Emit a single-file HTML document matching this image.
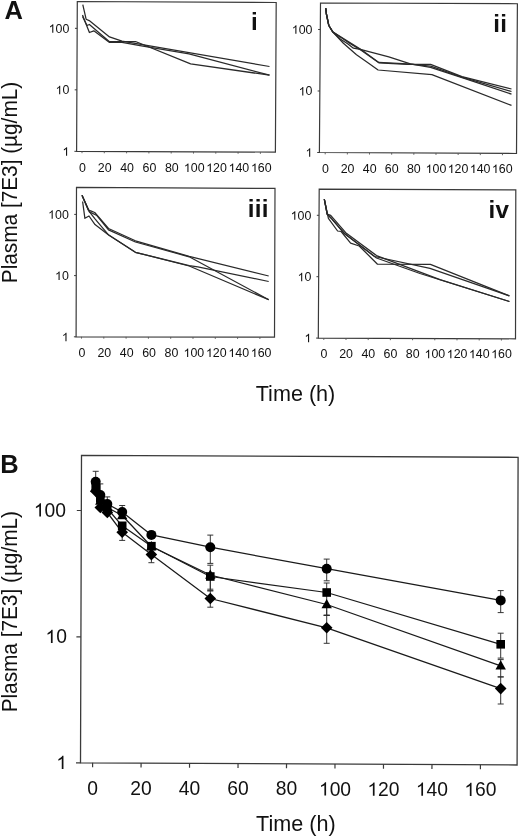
<!DOCTYPE html>
<html><head><meta charset="utf-8"><style>
html,body{margin:0;padding:0;background:#fff;}
svg{display:block;will-change:transform;font-family:"Liberation Sans", sans-serif;}
</style></head><body>
<svg width="520" height="837" viewBox="0 0 520 837">
<rect width="520" height="837" fill="#fff"/>
<polygon points="77.30,1.50 276.20,2.50 275.40,152.10 76.60,151.35" fill="none" stroke="#3a3a3a" stroke-width="1.2" stroke-linejoin="miter"/>
<line x1="76.60" y1="151.35" x2="74.40" y2="151.34" stroke="#3a3a3a" stroke-width="1.0"/>
<line x1="76.89" y1="89.85" x2="74.69" y2="89.84" stroke="#3a3a3a" stroke-width="1.0"/>
<line x1="77.17" y1="28.35" x2="74.97" y2="28.34" stroke="#3a3a3a" stroke-width="1.0"/>
<line x1="82.00" y1="151.37" x2="81.99" y2="153.17" stroke="#555" stroke-width="0.9"/>
<line x1="104.30" y1="151.45" x2="104.29" y2="153.25" stroke="#555" stroke-width="0.9"/>
<line x1="126.60" y1="151.54" x2="126.59" y2="153.34" stroke="#555" stroke-width="0.9"/>
<line x1="148.90" y1="151.62" x2="148.89" y2="153.42" stroke="#555" stroke-width="0.9"/>
<line x1="171.20" y1="151.71" x2="171.19" y2="153.51" stroke="#555" stroke-width="0.9"/>
<line x1="193.50" y1="151.79" x2="193.49" y2="153.59" stroke="#555" stroke-width="0.9"/>
<line x1="215.80" y1="151.88" x2="215.79" y2="153.68" stroke="#555" stroke-width="0.9"/>
<line x1="238.10" y1="151.96" x2="238.09" y2="153.76" stroke="#555" stroke-width="0.9"/>
<line x1="260.40" y1="152.04" x2="260.39" y2="153.84" stroke="#555" stroke-width="0.9"/>
<polygon points="320.50,3.00 517.40,3.75 516.50,153.50 319.40,152.50" fill="none" stroke="#3a3a3a" stroke-width="1.2" stroke-linejoin="miter"/>
<line x1="319.40" y1="152.50" x2="317.20" y2="152.49" stroke="#3a3a3a" stroke-width="1.0"/>
<line x1="319.85" y1="91.00" x2="317.65" y2="90.99" stroke="#3a3a3a" stroke-width="1.0"/>
<line x1="320.30" y1="29.50" x2="318.11" y2="29.49" stroke="#3a3a3a" stroke-width="1.0"/>
<line x1="325.20" y1="152.53" x2="325.19" y2="154.33" stroke="#555" stroke-width="0.9"/>
<line x1="347.36" y1="152.64" x2="347.35" y2="154.44" stroke="#555" stroke-width="0.9"/>
<line x1="369.52" y1="152.75" x2="369.51" y2="154.55" stroke="#555" stroke-width="0.9"/>
<line x1="391.68" y1="152.87" x2="391.67" y2="154.67" stroke="#555" stroke-width="0.9"/>
<line x1="413.84" y1="152.98" x2="413.83" y2="154.78" stroke="#555" stroke-width="0.9"/>
<line x1="436.00" y1="153.09" x2="435.99" y2="154.89" stroke="#555" stroke-width="0.9"/>
<line x1="458.16" y1="153.20" x2="458.14" y2="155.00" stroke="#555" stroke-width="0.9"/>
<line x1="480.32" y1="153.32" x2="480.30" y2="155.12" stroke="#555" stroke-width="0.9"/>
<line x1="502.48" y1="153.43" x2="502.46" y2="155.23" stroke="#555" stroke-width="0.9"/>
<polygon points="76.50,187.40 275.00,188.40 274.50,337.20 76.10,336.80" fill="none" stroke="#3a3a3a" stroke-width="1.2" stroke-linejoin="miter"/>
<line x1="76.10" y1="336.80" x2="73.90" y2="336.80" stroke="#3a3a3a" stroke-width="1.0"/>
<line x1="76.26" y1="275.60" x2="74.06" y2="275.60" stroke="#3a3a3a" stroke-width="1.0"/>
<line x1="76.43" y1="214.40" x2="74.23" y2="214.40" stroke="#3a3a3a" stroke-width="1.0"/>
<line x1="81.50" y1="336.81" x2="81.50" y2="338.61" stroke="#555" stroke-width="0.9"/>
<line x1="103.80" y1="336.86" x2="103.80" y2="338.66" stroke="#555" stroke-width="0.9"/>
<line x1="126.10" y1="336.90" x2="126.10" y2="338.70" stroke="#555" stroke-width="0.9"/>
<line x1="148.40" y1="336.95" x2="148.40" y2="338.75" stroke="#555" stroke-width="0.9"/>
<line x1="170.70" y1="336.99" x2="170.69" y2="338.79" stroke="#555" stroke-width="0.9"/>
<line x1="193.00" y1="337.04" x2="192.99" y2="338.84" stroke="#555" stroke-width="0.9"/>
<line x1="215.30" y1="337.08" x2="215.29" y2="338.88" stroke="#555" stroke-width="0.9"/>
<line x1="237.60" y1="337.13" x2="237.59" y2="338.93" stroke="#555" stroke-width="0.9"/>
<line x1="259.90" y1="337.17" x2="259.89" y2="338.97" stroke="#555" stroke-width="0.9"/>
<polygon points="319.20,189.20 515.80,189.80 515.50,338.80 318.30,338.10" fill="none" stroke="#3a3a3a" stroke-width="1.2" stroke-linejoin="miter"/>
<line x1="318.30" y1="338.10" x2="316.10" y2="338.09" stroke="#3a3a3a" stroke-width="1.0"/>
<line x1="318.67" y1="276.70" x2="316.47" y2="276.69" stroke="#3a3a3a" stroke-width="1.0"/>
<line x1="319.04" y1="215.30" x2="316.84" y2="215.29" stroke="#3a3a3a" stroke-width="1.0"/>
<line x1="323.80" y1="338.12" x2="323.79" y2="339.92" stroke="#555" stroke-width="0.9"/>
<line x1="346.00" y1="338.20" x2="345.99" y2="340.00" stroke="#555" stroke-width="0.9"/>
<line x1="368.20" y1="338.28" x2="368.19" y2="340.08" stroke="#555" stroke-width="0.9"/>
<line x1="390.40" y1="338.36" x2="390.39" y2="340.16" stroke="#555" stroke-width="0.9"/>
<line x1="412.60" y1="338.43" x2="412.59" y2="340.23" stroke="#555" stroke-width="0.9"/>
<line x1="434.80" y1="338.51" x2="434.79" y2="340.31" stroke="#555" stroke-width="0.9"/>
<line x1="457.00" y1="338.59" x2="456.99" y2="340.39" stroke="#555" stroke-width="0.9"/>
<line x1="479.20" y1="338.67" x2="479.19" y2="340.47" stroke="#555" stroke-width="0.9"/>
<line x1="501.40" y1="338.75" x2="501.39" y2="340.55" stroke="#555" stroke-width="0.9"/>
<path d="M763 0L763 1409L646 1409C614 1345 560 1280 483 1213C407 1147 320 1092 223 1050L223 890C290 913 363 948 443 996C500 1030 548 1065 583 1100L583 0Z" fill="#111" transform="translate(48.71 32.67) scale(0.00605 -0.00605)"/>
<text x="55.61" y="32.67" font-size="12.4" fill="#111">0</text>
<text x="62.50" y="32.67" font-size="12.4" fill="#111">0</text>
<path d="M763 0L763 1409L646 1409C614 1345 560 1280 483 1213C407 1147 320 1092 223 1050L223 890C290 913 363 948 443 996C500 1030 548 1065 583 1100L583 0Z" fill="#111" transform="translate(55.61 94.27) scale(0.00605 -0.00605)"/>
<text x="62.50" y="94.27" font-size="12.4" fill="#111">0</text>
<path d="M763 0L763 1409L646 1409C614 1345 560 1280 483 1213C407 1147 320 1092 223 1050L223 890C290 913 363 948 443 996C500 1030 548 1065 583 1100L583 0Z" fill="#111" transform="translate(62.50 155.67) scale(0.00605 -0.00605)"/>
<path d="M763 0L763 1409L646 1409C614 1345 560 1280 483 1213C407 1147 320 1092 223 1050L223 890C290 913 363 948 443 996C500 1030 548 1065 583 1100L583 0Z" fill="#111" transform="translate(291.81 33.77) scale(0.00605 -0.00605)"/>
<text x="298.71" y="33.77" font-size="12.4" fill="#111">0</text>
<text x="305.60" y="33.77" font-size="12.4" fill="#111">0</text>
<path d="M763 0L763 1409L646 1409C614 1345 560 1280 483 1213C407 1147 320 1092 223 1050L223 890C290 913 363 948 443 996C500 1030 548 1065 583 1100L583 0Z" fill="#111" transform="translate(298.71 95.47) scale(0.00605 -0.00605)"/>
<text x="305.60" y="95.47" font-size="12.4" fill="#111">0</text>
<path d="M763 0L763 1409L646 1409C614 1345 560 1280 483 1213C407 1147 320 1092 223 1050L223 890C290 913 363 948 443 996C500 1030 548 1065 583 1100L583 0Z" fill="#111" transform="translate(305.60 156.77) scale(0.00605 -0.00605)"/>
<path d="M763 0L763 1409L646 1409C614 1345 560 1280 483 1213C407 1147 320 1092 223 1050L223 890C290 913 363 948 443 996C500 1030 548 1065 583 1100L583 0Z" fill="#111" transform="translate(48.11 218.77) scale(0.00605 -0.00605)"/>
<text x="55.01" y="218.77" font-size="12.4" fill="#111">0</text>
<text x="61.90" y="218.77" font-size="12.4" fill="#111">0</text>
<path d="M763 0L763 1409L646 1409C614 1345 560 1280 483 1213C407 1147 320 1092 223 1050L223 890C290 913 363 948 443 996C500 1030 548 1065 583 1100L583 0Z" fill="#111" transform="translate(55.01 279.97) scale(0.00605 -0.00605)"/>
<text x="61.90" y="279.97" font-size="12.4" fill="#111">0</text>
<path d="M763 0L763 1409L646 1409C614 1345 560 1280 483 1213C407 1147 320 1092 223 1050L223 890C290 913 363 948 443 996C500 1030 548 1065 583 1100L583 0Z" fill="#111" transform="translate(61.90 341.27) scale(0.00605 -0.00605)"/>
<path d="M763 0L763 1409L646 1409C614 1345 560 1280 483 1213C407 1147 320 1092 223 1050L223 890C290 913 363 948 443 996C500 1030 548 1065 583 1100L583 0Z" fill="#111" transform="translate(290.71 219.67) scale(0.00605 -0.00605)"/>
<text x="297.61" y="219.67" font-size="12.4" fill="#111">0</text>
<text x="304.50" y="219.67" font-size="12.4" fill="#111">0</text>
<path d="M763 0L763 1409L646 1409C614 1345 560 1280 483 1213C407 1147 320 1092 223 1050L223 890C290 913 363 948 443 996C500 1030 548 1065 583 1100L583 0Z" fill="#111" transform="translate(297.61 281.27) scale(0.00605 -0.00605)"/>
<text x="304.50" y="281.27" font-size="12.4" fill="#111">0</text>
<path d="M763 0L763 1409L646 1409C614 1345 560 1280 483 1213C407 1147 320 1092 223 1050L223 890C290 913 363 948 443 996C500 1030 548 1065 583 1100L583 0Z" fill="#111" transform="translate(304.50 342.17) scale(0.00605 -0.00605)"/>
<text x="78.95" y="171.90" font-size="12.4" fill="#111">0</text>
<text x="97.86" y="171.90" font-size="12.4" fill="#111">2</text>
<text x="104.76" y="171.90" font-size="12.4" fill="#111">0</text>
<text x="120.22" y="171.90" font-size="12.4" fill="#111">4</text>
<text x="127.12" y="171.90" font-size="12.4" fill="#111">0</text>
<text x="142.58" y="171.90" font-size="12.4" fill="#111">6</text>
<text x="149.48" y="171.90" font-size="12.4" fill="#111">0</text>
<text x="164.94" y="171.90" font-size="12.4" fill="#111">8</text>
<text x="171.84" y="171.90" font-size="12.4" fill="#111">0</text>
<path d="M763 0L763 1409L646 1409C614 1345 560 1280 483 1213C407 1147 320 1092 223 1050L223 890C290 913 363 948 443 996C500 1030 548 1065 583 1100L583 0Z" fill="#111" transform="translate(183.86 171.90) scale(0.00605 -0.00605)"/>
<text x="190.75" y="171.90" font-size="12.4" fill="#111">0</text>
<text x="197.65" y="171.90" font-size="12.4" fill="#111">0</text>
<path d="M763 0L763 1409L646 1409C614 1345 560 1280 483 1213C407 1147 320 1092 223 1050L223 890C290 913 363 948 443 996C500 1030 548 1065 583 1100L583 0Z" fill="#111" transform="translate(206.22 171.90) scale(0.00605 -0.00605)"/>
<text x="213.11" y="171.90" font-size="12.4" fill="#111">2</text>
<text x="220.01" y="171.90" font-size="12.4" fill="#111">0</text>
<path d="M763 0L763 1409L646 1409C614 1345 560 1280 483 1213C407 1147 320 1092 223 1050L223 890C290 913 363 948 443 996C500 1030 548 1065 583 1100L583 0Z" fill="#111" transform="translate(228.58 171.90) scale(0.00605 -0.00605)"/>
<text x="235.47" y="171.90" font-size="12.4" fill="#111">4</text>
<text x="242.37" y="171.90" font-size="12.4" fill="#111">0</text>
<path d="M763 0L763 1409L646 1409C614 1345 560 1280 483 1213C407 1147 320 1092 223 1050L223 890C290 913 363 948 443 996C500 1030 548 1065 583 1100L583 0Z" fill="#111" transform="translate(250.94 171.90) scale(0.00605 -0.00605)"/>
<text x="257.83" y="171.90" font-size="12.4" fill="#111">6</text>
<text x="264.73" y="171.90" font-size="12.4" fill="#111">0</text>
<text x="322.05" y="173.10" font-size="12.4" fill="#111">0</text>
<text x="340.69" y="173.10" font-size="12.4" fill="#111">2</text>
<text x="347.59" y="173.10" font-size="12.4" fill="#111">0</text>
<text x="362.78" y="173.10" font-size="12.4" fill="#111">4</text>
<text x="369.68" y="173.10" font-size="12.4" fill="#111">0</text>
<text x="384.87" y="173.10" font-size="12.4" fill="#111">6</text>
<text x="391.77" y="173.10" font-size="12.4" fill="#111">0</text>
<text x="406.96" y="173.10" font-size="12.4" fill="#111">8</text>
<text x="413.86" y="173.10" font-size="12.4" fill="#111">0</text>
<path d="M763 0L763 1409L646 1409C614 1345 560 1280 483 1213C407 1147 320 1092 223 1050L223 890C290 913 363 948 443 996C500 1030 548 1065 583 1100L583 0Z" fill="#111" transform="translate(425.61 173.10) scale(0.00605 -0.00605)"/>
<text x="432.50" y="173.10" font-size="12.4" fill="#111">0</text>
<text x="439.40" y="173.10" font-size="12.4" fill="#111">0</text>
<path d="M763 0L763 1409L646 1409C614 1345 560 1280 483 1213C407 1147 320 1092 223 1050L223 890C290 913 363 948 443 996C500 1030 548 1065 583 1100L583 0Z" fill="#111" transform="translate(447.70 173.10) scale(0.00605 -0.00605)"/>
<text x="454.59" y="173.10" font-size="12.4" fill="#111">2</text>
<text x="461.49" y="173.10" font-size="12.4" fill="#111">0</text>
<path d="M763 0L763 1409L646 1409C614 1345 560 1280 483 1213C407 1147 320 1092 223 1050L223 890C290 913 363 948 443 996C500 1030 548 1065 583 1100L583 0Z" fill="#111" transform="translate(469.79 173.10) scale(0.00605 -0.00605)"/>
<text x="476.68" y="173.10" font-size="12.4" fill="#111">4</text>
<text x="483.58" y="173.10" font-size="12.4" fill="#111">0</text>
<path d="M763 0L763 1409L646 1409C614 1345 560 1280 483 1213C407 1147 320 1092 223 1050L223 890C290 913 363 948 443 996C500 1030 548 1065 583 1100L583 0Z" fill="#111" transform="translate(491.88 173.10) scale(0.00605 -0.00605)"/>
<text x="498.77" y="173.10" font-size="12.4" fill="#111">6</text>
<text x="505.67" y="173.10" font-size="12.4" fill="#111">0</text>
<text x="78.45" y="357.10" font-size="12.4" fill="#111">0</text>
<text x="97.40" y="357.10" font-size="12.4" fill="#111">2</text>
<text x="104.30" y="357.10" font-size="12.4" fill="#111">0</text>
<text x="119.80" y="357.10" font-size="12.4" fill="#111">4</text>
<text x="126.70" y="357.10" font-size="12.4" fill="#111">0</text>
<text x="142.20" y="357.10" font-size="12.4" fill="#111">6</text>
<text x="149.10" y="357.10" font-size="12.4" fill="#111">0</text>
<text x="164.60" y="357.10" font-size="12.4" fill="#111">8</text>
<text x="171.50" y="357.10" font-size="12.4" fill="#111">0</text>
<path d="M763 0L763 1409L646 1409C614 1345 560 1280 483 1213C407 1147 320 1092 223 1050L223 890C290 913 363 948 443 996C500 1030 548 1065 583 1100L583 0Z" fill="#111" transform="translate(183.56 357.10) scale(0.00605 -0.00605)"/>
<text x="190.45" y="357.10" font-size="12.4" fill="#111">0</text>
<text x="197.35" y="357.10" font-size="12.4" fill="#111">0</text>
<path d="M763 0L763 1409L646 1409C614 1345 560 1280 483 1213C407 1147 320 1092 223 1050L223 890C290 913 363 948 443 996C500 1030 548 1065 583 1100L583 0Z" fill="#111" transform="translate(205.96 357.10) scale(0.00605 -0.00605)"/>
<text x="212.85" y="357.10" font-size="12.4" fill="#111">2</text>
<text x="219.75" y="357.10" font-size="12.4" fill="#111">0</text>
<path d="M763 0L763 1409L646 1409C614 1345 560 1280 483 1213C407 1147 320 1092 223 1050L223 890C290 913 363 948 443 996C500 1030 548 1065 583 1100L583 0Z" fill="#111" transform="translate(228.36 357.10) scale(0.00605 -0.00605)"/>
<text x="235.25" y="357.10" font-size="12.4" fill="#111">4</text>
<text x="242.15" y="357.10" font-size="12.4" fill="#111">0</text>
<path d="M763 0L763 1409L646 1409C614 1345 560 1280 483 1213C407 1147 320 1092 223 1050L223 890C290 913 363 948 443 996C500 1030 548 1065 583 1100L583 0Z" fill="#111" transform="translate(250.76 357.10) scale(0.00605 -0.00605)"/>
<text x="257.65" y="357.10" font-size="12.4" fill="#111">6</text>
<text x="264.55" y="357.10" font-size="12.4" fill="#111">0</text>
<text x="320.45" y="358.30" font-size="12.4" fill="#111">0</text>
<text x="339.20" y="358.30" font-size="12.4" fill="#111">2</text>
<text x="346.10" y="358.30" font-size="12.4" fill="#111">0</text>
<text x="361.40" y="358.30" font-size="12.4" fill="#111">4</text>
<text x="368.30" y="358.30" font-size="12.4" fill="#111">0</text>
<text x="383.60" y="358.30" font-size="12.4" fill="#111">6</text>
<text x="390.50" y="358.30" font-size="12.4" fill="#111">0</text>
<text x="405.80" y="358.30" font-size="12.4" fill="#111">8</text>
<text x="412.70" y="358.30" font-size="12.4" fill="#111">0</text>
<path d="M763 0L763 1409L646 1409C614 1345 560 1280 483 1213C407 1147 320 1092 223 1050L223 890C290 913 363 948 443 996C500 1030 548 1065 583 1100L583 0Z" fill="#111" transform="translate(424.56 358.30) scale(0.00605 -0.00605)"/>
<text x="431.45" y="358.30" font-size="12.4" fill="#111">0</text>
<text x="438.35" y="358.30" font-size="12.4" fill="#111">0</text>
<path d="M763 0L763 1409L646 1409C614 1345 560 1280 483 1213C407 1147 320 1092 223 1050L223 890C290 913 363 948 443 996C500 1030 548 1065 583 1100L583 0Z" fill="#111" transform="translate(446.76 358.30) scale(0.00605 -0.00605)"/>
<text x="453.65" y="358.30" font-size="12.4" fill="#111">2</text>
<text x="460.55" y="358.30" font-size="12.4" fill="#111">0</text>
<path d="M763 0L763 1409L646 1409C614 1345 560 1280 483 1213C407 1147 320 1092 223 1050L223 890C290 913 363 948 443 996C500 1030 548 1065 583 1100L583 0Z" fill="#111" transform="translate(468.96 358.30) scale(0.00605 -0.00605)"/>
<text x="475.85" y="358.30" font-size="12.4" fill="#111">4</text>
<text x="482.75" y="358.30" font-size="12.4" fill="#111">0</text>
<path d="M763 0L763 1409L646 1409C614 1345 560 1280 483 1213C407 1147 320 1092 223 1050L223 890C290 913 363 948 443 996C500 1030 548 1065 583 1100L583 0Z" fill="#111" transform="translate(491.16 358.30) scale(0.00605 -0.00605)"/>
<text x="498.05" y="358.30" font-size="12.4" fill="#111">6</text>
<text x="504.95" y="358.30" font-size="12.4" fill="#111">0</text>
<text x="251.10" y="29.90" font-size="24.2" text-anchor="start" font-weight="bold" fill="#111" letter-spacing="0.35">i</text>
<text x="493.20" y="31.80" font-size="24.2" text-anchor="start" font-weight="bold" fill="#111" letter-spacing="0.35">ii</text>
<text x="247.70" y="216.60" font-size="24.2" text-anchor="start" font-weight="bold" fill="#111" letter-spacing="0.35">iii</text>
<text x="488.40" y="217.70" font-size="24.2" text-anchor="start" font-weight="bold" fill="#111" letter-spacing="0.35">iv</text>
<text x="4.50" y="19.10" font-size="25.5" text-anchor="start" font-weight="bold" fill="#111" >A</text>
<text x="0.30" y="472.50" font-size="25.5" text-anchor="start" font-weight="bold" fill="#111" >B</text>
<text x="295.50" y="400.60" font-size="21.6" text-anchor="middle" font-weight="normal" fill="#111" >Time (h)</text>
<text x="295.90" y="831.20" font-size="21.6" text-anchor="middle" font-weight="normal" fill="#111" >Time (h)</text>
<text x="0.00" y="0.00" font-size="22.0" text-anchor="middle" font-weight="normal" fill="#111" transform="translate(17.4 182.5) rotate(-90) scale(0.945 1)">Plasma [7E3] (µg/mL)</text>
<text x="0.00" y="0.00" font-size="22.0" text-anchor="middle" font-weight="normal" fill="#111" transform="translate(17.4 611.7) rotate(-90) scale(0.945 1)">Plasma [7E3] (µg/mL)</text>
<polyline points="82.80,4.60 86.10,19.20 89.20,20.60 109.50,36.90 122.00,41.20 269.50,66.50" fill="none" stroke="#2a2a2a" stroke-width="1.25" stroke-linejoin="round"/>
<polyline points="82.50,16.50 87.00,25.50 89.40,24.50 109.20,41.50 135.50,41.50 190.60,63.80 269.50,75.20" fill="none" stroke="#2a2a2a" stroke-width="1.25" stroke-linejoin="round"/>
<polyline points="82.50,15.00 89.40,32.50 93.80,30.80 109.20,42.30 122.00,42.30 140.00,45.60 189.00,53.80 269.50,75.20" fill="none" stroke="#2a2a2a" stroke-width="1.25" stroke-linejoin="round"/>
<polyline points="325.80,8.30 326.30,13.50 328.80,25.50 332.60,31.70 343.40,43.20 356.50,54.80 366.50,61.70 378.10,70.00 431.90,74.60 511.50,105.40" fill="none" stroke="#2a2a2a" stroke-width="1.25" stroke-linejoin="round"/>
<polyline points="325.80,8.30 326.30,13.50 328.80,25.50 332.60,31.70 340.30,39.00 348.00,44.00 353.40,48.20 360.30,49.40 388.80,56.90 410.40,63.80 430.50,67.30 462.00,77.60 511.50,94.20" fill="none" stroke="#2a2a2a" stroke-width="1.25" stroke-linejoin="round"/>
<polyline points="325.80,8.30 326.30,13.50 328.80,25.50 332.60,31.70 343.40,39.00 349.50,43.20 361.10,50.20 378.80,62.80 407.30,64.30 430.60,64.40 462.00,76.60 511.50,89.00" fill="none" stroke="#2a2a2a" stroke-width="1.25" stroke-linejoin="round"/>
<polyline points="325.80,8.30 326.30,13.50 328.80,25.50 332.60,31.70 343.40,38.60 361.10,49.60 378.80,62.40 407.30,63.90 430.60,66.20 462.00,77.20 511.50,91.50" fill="none" stroke="#2a2a2a" stroke-width="1.25" stroke-linejoin="round"/>
<polyline points="82.00,195.20 88.40,210.20 90.70,210.80 94.70,212.50 108.50,228.50 135.40,240.80 189.20,256.40 268.70,276.00" fill="none" stroke="#2a2a2a" stroke-width="1.25" stroke-linejoin="round"/>
<polyline points="82.00,195.20 89.50,211.90 96.90,215.50 108.50,229.90 135.40,242.00 189.20,256.80 268.70,299.70" fill="none" stroke="#2a2a2a" stroke-width="1.25" stroke-linejoin="round"/>
<polyline points="82.60,201.50 84.90,218.30 89.00,216.00 95.00,224.60 108.30,234.70 135.40,252.30 189.20,266.00 268.70,299.70" fill="none" stroke="#2a2a2a" stroke-width="1.25" stroke-linejoin="round"/>
<polyline points="82.00,195.20 89.50,211.90 95.00,218.80 108.30,234.70 135.40,252.30 189.20,265.60 197.80,266.80 268.70,281.50" fill="none" stroke="#2a2a2a" stroke-width="1.25" stroke-linejoin="round"/>
<polyline points="324.30,199.20 327.20,214.20 330.70,215.40 345.70,232.70 376.50,255.60 440.00,279.60 509.40,301.50" fill="none" stroke="#2a2a2a" stroke-width="1.25" stroke-linejoin="round"/>
<polyline points="324.30,199.20 328.40,218.30 337.60,231.00 341.10,231.50 350.60,243.10 359.20,246.00 377.50,264.20 430.40,264.40 509.40,295.80" fill="none" stroke="#2a2a2a" stroke-width="1.25" stroke-linejoin="round"/>
<polyline points="324.30,199.20 327.20,214.20 331.80,218.80 343.40,232.70 374.60,256.50 430.00,268.30 509.40,295.80" fill="none" stroke="#2a2a2a" stroke-width="1.25" stroke-linejoin="round"/>
<polyline points="324.30,199.20 327.20,214.20 331.80,218.80 345.00,234.00 376.50,258.00 420.00,273.50 509.40,301.50" fill="none" stroke="#2a2a2a" stroke-width="1.25" stroke-linejoin="round"/>
<polygon points="81.50,455.40 518.10,457.30 517.10,765.00 80.50,762.80" fill="none" stroke="#3a3a3a" stroke-width="1.3" stroke-linejoin="miter"/>
<line x1="80.50" y1="762.80" x2="76.00" y2="762.78" stroke="#3a3a3a" stroke-width="1.2"/>
<line x1="80.91" y1="636.90" x2="76.41" y2="636.88" stroke="#3a3a3a" stroke-width="1.2"/>
<line x1="81.32" y1="510.50" x2="76.82" y2="510.48" stroke="#3a3a3a" stroke-width="1.2"/>
<line x1="92.60" y1="762.86" x2="92.59" y2="767.36" stroke="#3a3a3a" stroke-width="1.2"/>
<line x1="141.08" y1="763.11" x2="141.06" y2="767.61" stroke="#3a3a3a" stroke-width="1.2"/>
<line x1="189.56" y1="763.35" x2="189.54" y2="767.85" stroke="#3a3a3a" stroke-width="1.2"/>
<line x1="238.04" y1="763.59" x2="238.02" y2="768.09" stroke="#3a3a3a" stroke-width="1.2"/>
<line x1="286.52" y1="763.84" x2="286.50" y2="768.34" stroke="#3a3a3a" stroke-width="1.2"/>
<line x1="335.00" y1="764.08" x2="334.98" y2="768.58" stroke="#3a3a3a" stroke-width="1.2"/>
<line x1="383.48" y1="764.33" x2="383.46" y2="768.83" stroke="#3a3a3a" stroke-width="1.2"/>
<line x1="431.96" y1="764.57" x2="431.94" y2="769.07" stroke="#3a3a3a" stroke-width="1.2"/>
<line x1="480.43" y1="764.82" x2="480.42" y2="769.32" stroke="#3a3a3a" stroke-width="1.2"/>
<path d="M763 0L763 1409L646 1409C614 1345 560 1280 483 1213C407 1147 320 1092 223 1050L223 890C290 913 363 948 443 996C500 1030 548 1065 583 1100L583 0Z" fill="#111" transform="translate(56.27 769.04) scale(0.00942 -0.00942)"/>
<path d="M763 0L763 1409L646 1409C614 1345 560 1280 483 1213C407 1147 320 1092 223 1050L223 890C290 913 363 948 443 996C500 1030 548 1065 583 1100L583 0Z" fill="#111" transform="translate(45.43 643.04) scale(0.00942 -0.00942)"/>
<text x="56.17" y="643.04" font-size="19.3" fill="#111">0</text>
<path d="M763 0L763 1409L646 1409C614 1345 560 1280 483 1213C407 1147 320 1092 223 1050L223 890C290 913 363 948 443 996C500 1030 548 1065 583 1100L583 0Z" fill="#111" transform="translate(33.80 516.54) scale(0.00942 -0.00942)"/>
<text x="44.53" y="516.54" font-size="19.3" fill="#111">0</text>
<text x="55.27" y="516.54" font-size="19.3" fill="#111">0</text>
<text x="87.23" y="794.60" font-size="19.3" fill="#111">0</text>
<text x="130.35" y="794.78" font-size="19.3" fill="#111">2</text>
<text x="141.08" y="794.78" font-size="19.3" fill="#111">0</text>
<text x="178.82" y="794.96" font-size="19.3" fill="#111">4</text>
<text x="189.56" y="794.96" font-size="19.3" fill="#111">0</text>
<text x="227.30" y="795.14" font-size="19.3" fill="#111">6</text>
<text x="238.04" y="795.14" font-size="19.3" fill="#111">0</text>
<text x="275.78" y="795.32" font-size="19.3" fill="#111">8</text>
<text x="286.52" y="795.32" font-size="19.3" fill="#111">0</text>
<path d="M763 0L763 1409L646 1409C614 1345 560 1280 483 1213C407 1147 320 1092 223 1050L223 890C290 913 363 948 443 996C500 1030 548 1065 583 1100L583 0Z" fill="#111" transform="translate(318.90 795.50) scale(0.00942 -0.00942)"/>
<text x="329.63" y="795.50" font-size="19.3" fill="#111">0</text>
<text x="340.36" y="795.50" font-size="19.3" fill="#111">0</text>
<path d="M763 0L763 1409L646 1409C614 1345 560 1280 483 1213C407 1147 320 1092 223 1050L223 890C290 913 363 948 443 996C500 1030 548 1065 583 1100L583 0Z" fill="#111" transform="translate(367.38 795.68) scale(0.00942 -0.00942)"/>
<text x="378.11" y="795.68" font-size="19.3" fill="#111">2</text>
<text x="388.84" y="795.68" font-size="19.3" fill="#111">0</text>
<path d="M763 0L763 1409L646 1409C614 1345 560 1280 483 1213C407 1147 320 1092 223 1050L223 890C290 913 363 948 443 996C500 1030 548 1065 583 1100L583 0Z" fill="#111" transform="translate(415.85 795.86) scale(0.00942 -0.00942)"/>
<text x="426.59" y="795.86" font-size="19.3" fill="#111">4</text>
<text x="437.32" y="795.86" font-size="19.3" fill="#111">0</text>
<path d="M763 0L763 1409L646 1409C614 1345 560 1280 483 1213C407 1147 320 1092 223 1050L223 890C290 913 363 948 443 996C500 1030 548 1065 583 1100L583 0Z" fill="#111" transform="translate(464.33 796.04) scale(0.00942 -0.00942)"/>
<text x="475.07" y="796.04" font-size="19.3" fill="#111">6</text>
<text x="485.80" y="796.04" font-size="19.3" fill="#111">0</text>
<polyline points="95.70,481.70 100.30,495.00 107.30,504.00 122.20,512.00 151.40,534.90 210.30,547.20 326.70,568.70 500.70,600.40" fill="none" stroke="#1a1a1a" stroke-width="1.25" stroke-linejoin="round"/>
<polyline points="95.70,485.50 100.30,498.50 107.30,508.50 122.20,525.80 151.40,546.20 210.30,576.50 326.70,592.50 500.70,644.30" fill="none" stroke="#1a1a1a" stroke-width="1.25" stroke-linejoin="round"/>
<polyline points="95.70,487.50 100.30,501.00 107.30,507.50 122.20,515.50 151.40,546.50 210.30,575.00 326.70,604.50 500.70,665.80" fill="none" stroke="#1a1a1a" stroke-width="1.25" stroke-linejoin="round"/>
<polyline points="95.70,491.20 100.30,507.50 107.30,512.50 122.20,532.30 151.40,554.60 210.30,598.50 326.70,627.80 500.70,688.60" fill="none" stroke="#1a1a1a" stroke-width="1.25" stroke-linejoin="round"/>
<line x1="95.70" y1="481.70" x2="95.70" y2="471.30" stroke="#2a2a2a" stroke-width="0.95"/>
<line x1="92.70" y1="471.30" x2="98.70" y2="471.30" stroke="#2a2a2a" stroke-width="0.95"/>
<line x1="100.30" y1="495.00" x2="100.30" y2="483.90" stroke="#2a2a2a" stroke-width="0.95"/>
<line x1="97.30" y1="483.90" x2="103.30" y2="483.90" stroke="#2a2a2a" stroke-width="0.95"/>
<line x1="107.30" y1="504.00" x2="107.30" y2="496.90" stroke="#2a2a2a" stroke-width="0.95"/>
<line x1="104.30" y1="496.90" x2="110.30" y2="496.90" stroke="#2a2a2a" stroke-width="0.95"/>
<line x1="122.20" y1="512.00" x2="122.20" y2="505.50" stroke="#2a2a2a" stroke-width="0.95"/>
<line x1="119.20" y1="505.50" x2="125.20" y2="505.50" stroke="#2a2a2a" stroke-width="0.95"/>
<line x1="210.30" y1="547.20" x2="210.30" y2="535.10" stroke="#2a2a2a" stroke-width="0.95"/>
<line x1="207.30" y1="535.10" x2="213.30" y2="535.10" stroke="#2a2a2a" stroke-width="0.95"/>
<line x1="210.30" y1="547.20" x2="210.30" y2="563.40" stroke="#2a2a2a" stroke-width="0.95"/>
<line x1="207.30" y1="563.40" x2="213.30" y2="563.40" stroke="#2a2a2a" stroke-width="0.95"/>
<line x1="326.70" y1="568.70" x2="326.70" y2="559.10" stroke="#2a2a2a" stroke-width="0.95"/>
<line x1="323.70" y1="559.10" x2="329.70" y2="559.10" stroke="#2a2a2a" stroke-width="0.95"/>
<line x1="326.70" y1="568.70" x2="326.70" y2="580.80" stroke="#2a2a2a" stroke-width="0.95"/>
<line x1="323.70" y1="580.80" x2="329.70" y2="580.80" stroke="#2a2a2a" stroke-width="0.95"/>
<line x1="500.70" y1="600.40" x2="500.70" y2="590.60" stroke="#2a2a2a" stroke-width="0.95"/>
<line x1="497.70" y1="590.60" x2="503.70" y2="590.60" stroke="#2a2a2a" stroke-width="0.95"/>
<line x1="500.70" y1="600.40" x2="500.70" y2="612.60" stroke="#2a2a2a" stroke-width="0.95"/>
<line x1="497.70" y1="612.60" x2="503.70" y2="612.60" stroke="#2a2a2a" stroke-width="0.95"/>
<line x1="210.30" y1="576.50" x2="210.30" y2="565.20" stroke="#2a2a2a" stroke-width="0.95"/>
<line x1="207.30" y1="565.20" x2="213.30" y2="565.20" stroke="#2a2a2a" stroke-width="0.95"/>
<line x1="210.30" y1="576.50" x2="210.30" y2="589.20" stroke="#2a2a2a" stroke-width="0.95"/>
<line x1="207.30" y1="589.20" x2="213.30" y2="589.20" stroke="#2a2a2a" stroke-width="0.95"/>
<line x1="326.70" y1="592.50" x2="326.70" y2="583.00" stroke="#2a2a2a" stroke-width="0.95"/>
<line x1="323.70" y1="583.00" x2="329.70" y2="583.00" stroke="#2a2a2a" stroke-width="0.95"/>
<line x1="326.70" y1="592.50" x2="326.70" y2="615.30" stroke="#2a2a2a" stroke-width="0.95"/>
<line x1="323.70" y1="615.30" x2="329.70" y2="615.30" stroke="#2a2a2a" stroke-width="0.95"/>
<line x1="500.70" y1="644.30" x2="500.70" y2="633.20" stroke="#2a2a2a" stroke-width="0.95"/>
<line x1="497.70" y1="633.20" x2="503.70" y2="633.20" stroke="#2a2a2a" stroke-width="0.95"/>
<line x1="500.70" y1="644.30" x2="500.70" y2="658.10" stroke="#2a2a2a" stroke-width="0.95"/>
<line x1="497.70" y1="658.10" x2="503.70" y2="658.10" stroke="#2a2a2a" stroke-width="0.95"/>
<line x1="210.30" y1="575.00" x2="210.30" y2="590.80" stroke="#2a2a2a" stroke-width="0.95"/>
<line x1="207.30" y1="590.80" x2="213.30" y2="590.80" stroke="#2a2a2a" stroke-width="0.95"/>
<line x1="326.70" y1="604.50" x2="326.70" y2="615.30" stroke="#2a2a2a" stroke-width="0.95"/>
<line x1="323.70" y1="615.30" x2="329.70" y2="615.30" stroke="#2a2a2a" stroke-width="0.95"/>
<line x1="500.70" y1="665.80" x2="500.70" y2="659.60" stroke="#2a2a2a" stroke-width="0.95"/>
<line x1="497.70" y1="659.60" x2="503.70" y2="659.60" stroke="#2a2a2a" stroke-width="0.95"/>
<line x1="500.70" y1="665.80" x2="500.70" y2="676.90" stroke="#2a2a2a" stroke-width="0.95"/>
<line x1="497.70" y1="676.90" x2="503.70" y2="676.90" stroke="#2a2a2a" stroke-width="0.95"/>
<line x1="122.20" y1="532.30" x2="122.20" y2="540.40" stroke="#2a2a2a" stroke-width="0.95"/>
<line x1="119.20" y1="540.40" x2="125.20" y2="540.40" stroke="#2a2a2a" stroke-width="0.95"/>
<line x1="151.40" y1="554.60" x2="151.40" y2="562.70" stroke="#2a2a2a" stroke-width="0.95"/>
<line x1="148.40" y1="562.70" x2="154.40" y2="562.70" stroke="#2a2a2a" stroke-width="0.95"/>
<line x1="210.30" y1="598.50" x2="210.30" y2="590.80" stroke="#2a2a2a" stroke-width="0.95"/>
<line x1="207.30" y1="590.80" x2="213.30" y2="590.80" stroke="#2a2a2a" stroke-width="0.95"/>
<line x1="210.30" y1="598.50" x2="210.30" y2="607.20" stroke="#2a2a2a" stroke-width="0.95"/>
<line x1="207.30" y1="607.20" x2="213.30" y2="607.20" stroke="#2a2a2a" stroke-width="0.95"/>
<line x1="326.70" y1="627.80" x2="326.70" y2="615.30" stroke="#2a2a2a" stroke-width="0.95"/>
<line x1="323.70" y1="615.30" x2="329.70" y2="615.30" stroke="#2a2a2a" stroke-width="0.95"/>
<line x1="326.70" y1="627.80" x2="326.70" y2="643.30" stroke="#2a2a2a" stroke-width="0.95"/>
<line x1="323.70" y1="643.30" x2="329.70" y2="643.30" stroke="#2a2a2a" stroke-width="0.95"/>
<line x1="500.70" y1="688.60" x2="500.70" y2="676.90" stroke="#2a2a2a" stroke-width="0.95"/>
<line x1="497.70" y1="676.90" x2="503.70" y2="676.90" stroke="#2a2a2a" stroke-width="0.95"/>
<line x1="500.70" y1="688.60" x2="500.70" y2="704.00" stroke="#2a2a2a" stroke-width="0.95"/>
<line x1="497.70" y1="704.00" x2="503.70" y2="704.00" stroke="#2a2a2a" stroke-width="0.95"/>
<circle cx="95.70" cy="481.70" r="5.0" fill="#000"/>
<circle cx="100.30" cy="495.00" r="5.0" fill="#000"/>
<circle cx="107.30" cy="504.00" r="5.0" fill="#000"/>
<circle cx="122.20" cy="512.00" r="5.0" fill="#000"/>
<circle cx="151.40" cy="534.90" r="5.0" fill="#000"/>
<circle cx="210.30" cy="547.20" r="5.0" fill="#000"/>
<circle cx="326.70" cy="568.70" r="5.0" fill="#000"/>
<circle cx="500.70" cy="600.40" r="5.0" fill="#000"/>
<rect x="91.40" y="481.20" width="8.6" height="8.6" fill="#000"/>
<rect x="96.00" y="494.20" width="8.6" height="8.6" fill="#000"/>
<rect x="103.00" y="504.20" width="8.6" height="8.6" fill="#000"/>
<rect x="117.90" y="521.50" width="8.6" height="8.6" fill="#000"/>
<rect x="147.10" y="541.90" width="8.6" height="8.6" fill="#000"/>
<rect x="206.00" y="572.20" width="8.6" height="8.6" fill="#000"/>
<rect x="322.40" y="588.20" width="8.6" height="8.6" fill="#000"/>
<rect x="496.40" y="640.00" width="8.6" height="8.6" fill="#000"/>
<polygon points="95.70,482.00 100.90,491.30 90.50,491.30" fill="#000"/>
<polygon points="100.30,495.50 105.50,504.80 95.10,504.80" fill="#000"/>
<polygon points="107.30,502.00 112.50,511.30 102.10,511.30" fill="#000"/>
<polygon points="122.20,510.00 127.40,519.30 117.00,519.30" fill="#000"/>
<polygon points="151.40,541.00 156.60,550.30 146.20,550.30" fill="#000"/>
<polygon points="210.30,569.50 215.50,578.80 205.10,578.80" fill="#000"/>
<polygon points="326.70,599.00 331.90,608.30 321.50,608.30" fill="#000"/>
<polygon points="500.70,660.30 505.90,669.60 495.50,669.60" fill="#000"/>
<polygon points="95.70,485.40 101.50,491.20 95.70,497.00 89.90,491.20" fill="#000"/>
<polygon points="100.30,501.70 106.10,507.50 100.30,513.30 94.50,507.50" fill="#000"/>
<polygon points="107.30,506.70 113.10,512.50 107.30,518.30 101.50,512.50" fill="#000"/>
<polygon points="122.20,526.50 128.00,532.30 122.20,538.10 116.40,532.30" fill="#000"/>
<polygon points="151.40,548.80 157.20,554.60 151.40,560.40 145.60,554.60" fill="#000"/>
<polygon points="210.30,592.70 216.10,598.50 210.30,604.30 204.50,598.50" fill="#000"/>
<polygon points="326.70,622.00 332.50,627.80 326.70,633.60 320.90,627.80" fill="#000"/>
<polygon points="500.70,682.80 506.50,688.60 500.70,694.40 494.90,688.60" fill="#000"/>
</svg>
</body></html>
